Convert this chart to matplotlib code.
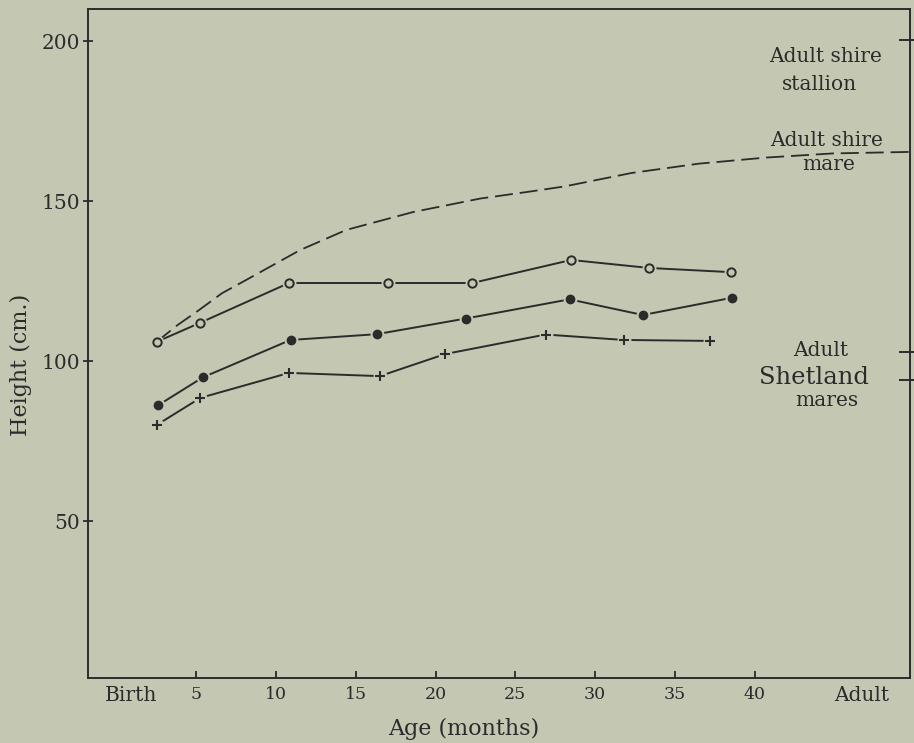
import matplotlib
matplotlib.use("Agg")
import matplotlib.pyplot as plt

# ---- data ----
open_x = [2.5, 5.2, 10.8, 17.0, 22.3, 28.5, 33.4, 38.5]
open_y = [106.0, 111.9, 124.4, 124.4, 124.4, 131.6, 129.1, 127.8]

filled_x = [2.6, 5.4, 10.9, 16.3, 21.9, 28.4, 33.0, 38.6]
filled_y = [86.2, 94.9, 106.6, 108.4, 113.3, 119.3, 114.4, 119.8]

plus_x = [2.5, 5.25, 10.8, 16.5, 20.6, 26.9, 31.8, 37.2]
plus_y = [80.0, 88.5, 96.3, 95.3, 102.2, 108.3, 106.6, 106.3]

shire_mare_x = [2.5, 3.8, 5.15, 6.6, 8.1, 9.8, 11.5, 14.4, 18.6, 22.8, 25.8, 28.1, 32.3, 36.5, 40.7, 44.9, 50.0]
shire_mare_y = [106.0, 111.2, 115.9, 121.2, 125.3, 130.0, 134.7, 141.0, 146.6, 150.8, 152.9, 154.6, 158.8, 161.7, 163.6, 164.9, 165.4]

adult_marks = [200.3, 102.9, 94.1]

x_ticks = [5, 10, 15, 20, 25, 30, 35, 40]
x_ticklabels = ["5", "10", "15", "20", "25", "30", "35", "40"]
end_label_pos = [0.9, 46.7]
end_labels = ["Birth", "Adult"]
y_ticks = [50, 100, 150, 200]
y_ticklabels = ["50", "100", "150", "200"]

BG = "#c4c8b3"
INK = "#2b2b2b"
plt.rcParams["font.family"] = ["DejaVu Serif"]

fig = plt.figure(figsize=(9.14, 7.43), dpi=100, facecolor=BG)
ax = fig.add_axes([88 / 914, 1 - 677.5 / 743, (910 - 88) / 914, (677.5 - 8.5) / 743])
ax.set_facecolor(BG)
ax.set_xlim(-1.8, 49.75)
ax.set_ylim(1.1, 210.2)

for s in ax.spines.values():
    s.set_color(INK)
    s.set_linewidth(1.4)

# dashed shire-mare curve
ax.plot(shire_mare_x, shire_mare_y, color=INK, lw=1.3, ls=(0, (10, 3.8)), clip_on=False, zorder=2)

def series(xs, ys, marker, mfc, ms, mew, halo):
    ax.plot(xs, ys, color=INK, lw=1.4, zorder=3)
    ax.plot(xs, ys, ls="none", marker="o", ms=halo, mfc=BG, mec=BG, zorder=4)
    ax.plot(xs, ys, ls="none", marker=marker, ms=ms, mfc=mfc, mec=INK, mew=mew, zorder=5)

series(open_x, open_y, "o", BG, 6, 1.4, 9)
series(filled_x, filled_y, "o", INK, 6, 1.0, 9)
series(plus_x, plus_y, "+", INK, 7, 1.5, 9)

# adult reference marks on right edge
for v in adult_marks:
    ax.plot([49.1, 50.0], [v, v], color=INK, lw=1.4, clip_on=False)

# ticks
ax.set_xticks(x_ticks)
ax.set_xticklabels(x_ticklabels, fontsize=12.5, color=INK)
ax.set_xticks(end_label_pos, minor=True)
ax.set_xticklabels(end_labels, minor=True, fontsize=14.5, color=INK)
ax.tick_params(axis="x", which="major", direction="in", length=5, width=1.3, pad=6, colors=INK)
ax.tick_params(axis="x", which="minor", length=0, pad=6, labelcolor=INK)
ax.set_yticks(y_ticks)
ax.set_yticklabels(y_ticklabels, fontsize=14.5, color=INK)
ax.tick_params(axis="y", direction="inout", length=7, width=1.3, pad=2, colors=INK)

ax.set_xlabel("Age (months)", fontsize=16, color=INK)
ax.xaxis.set_label_coords(0.457, -0.06)
ax.set_ylabel("Height (cm.)", fontsize=16, color=INK)
ax.yaxis.set_label_coords(-0.068, 0.468)

# right-side annotations
tk = dict(ha="center", va="center", color=INK, transform=fig.transFigure)
def T(x, y, s, size):
    fig.text(x / 914, 1 - y / 743, s, fontsize=size, **tk)

T(826, 57, "Adult shire", 14.5)
T(819, 84, "stallion", 14.5)
T(827, 141, "Adult shire", 14.5)
T(829, 165, "mare", 14.5)
T(821, 351, "Adult", 14.5)
T(814, 378, "Shetland", 17.5)
T(827, 400, "mares", 14.5)

fig.savefig("out.png", dpi=100, facecolor=BG)
